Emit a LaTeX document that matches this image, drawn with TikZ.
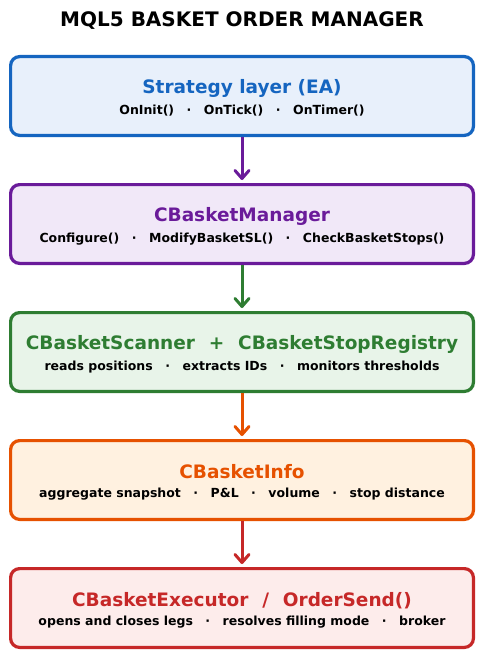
\documentclass[tikz,border=0pt]{standalone}
\usepackage{fontspec}
\setmainfont{DejaVu Sans}
\usetikzlibrary{arrows.meta,positioning}
\definecolor{eaC}{HTML}{1565C0}\definecolor{eaF}{HTML}{E8F0FB}
\definecolor{mgrC}{HTML}{6A1B9A}\definecolor{mgrF}{HTML}{F1E8F8}
\definecolor{scanC}{HTML}{2E7D32}\definecolor{scanF}{HTML}{E8F4E9}
\definecolor{infoC}{HTML}{E65100}\definecolor{infoF}{HTML}{FFF1E0}
\definecolor{execC}{HTML}{C62828}\definecolor{execF}{HTML}{FDECEB}
\tikzstyle{layer}=[draw,rounded corners=9pt,line width=3.2pt,minimum width=462.8pt,minimum height=78.8pt,align=center,font=\bfseries]
\tikzstyle{flow}=[-{Straight Barb[length=8pt,width=14pt,round]},line width=3pt,shorten >=3pt]
\newcommand{\hd}[1]{{\fontsize{18.5}{22}\selectfont\rule{0pt}{19.5pt}#1}\\[7pt]}
\newcommand{\sub}[1]{{\fontsize{12.5}{14}\selectfont #1\rule[-3.5pt]{0pt}{3.5pt}}}
\newcommand{\sep}{\hspace{1.0em}·\hspace{1.0em}}

\begin{document}
\begin{tikzpicture}[x=1pt,y=-1pt]
		\useasboundingbox (0,0) rectangle (484,658);
		\node(title) at (242,21) {\bfseries\fontsize{20}{24}\selectfont MQL5 BASKET ORDER MANAGER};

		\node(ea)[layer,draw=eaC,fill=eaF] at (242,96)
			{\hd{\textcolor{eaC}{Strategy layer (EA)}}\sub{OnInit()\sep OnTick()\sep OnTimer()}};
		\node(mgr)[layer,draw=mgrC,fill=mgrF,below=46pt of ea]
			{\hd{\textcolor{mgrC}{CBasketManager}}\sub{Configure()\sep ModifyBasketSL()\sep CheckBasketStops()}};
		\node(scan)[layer,draw=scanC,fill=scanF,below=46pt of mgr]
			{\hd{\textcolor{scanC}{CBasketScanner\hspace{0.75em}+\hspace{0.75em}CBasketStopRegistry}}\sub{reads positions\sep extracts IDs\sep monitors thresholds}};
		\node(info)[layer,draw=infoC,fill=infoF,below=46pt of scan]
			{\hd{\textcolor{infoC}{CBasketInfo}}\sub{aggregate snapshot\sep P\&L\sep volume\sep stop distance}};
		\node(exec)[layer,draw=execC,fill=execF,below=46pt of info]
			{\hd{\textcolor{execC}{CBasketExecutor\hspace{0.75em}/\hspace{0.75em}OrderSend()}}\sub{opens and closes legs\sep resolves filling mode\sep broker}};

		\draw[flow,mgrC] (ea) -- (mgr);
		\draw[flow,scanC] (mgr) -- (scan);
		\draw[flow,infoC] (scan) -- (info);
		\draw[flow,execC] (info) -- (exec);

\end{tikzpicture}
\end{document}
